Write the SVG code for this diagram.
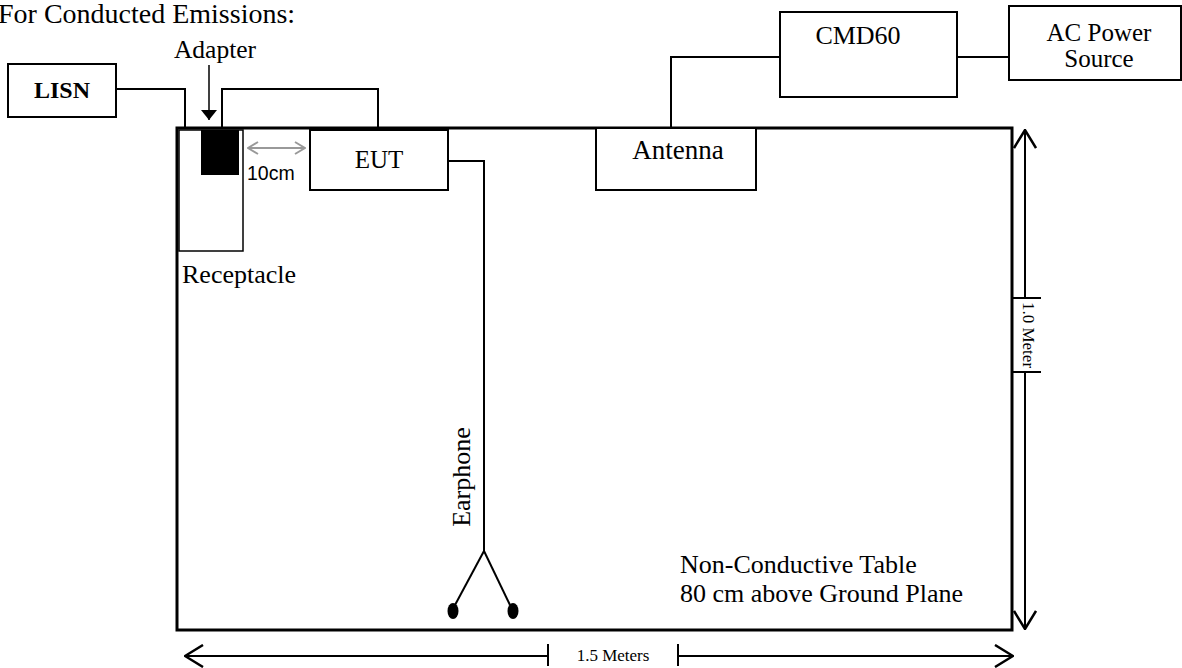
<svg xmlns="http://www.w3.org/2000/svg" width="1182" height="668" viewBox="0 0 1182 668">
<style>
text{font-family:"Liberation Serif","Times New Roman",serif;fill:#000}
.box{fill:#fff;stroke:#000;stroke-width:2}
.ln{fill:none;stroke:#000;stroke-width:2}
.dim{fill:none;stroke:#000;stroke-width:2}
.t{font-size:26px}
.c{text-anchor:middle}
</style>
<defs>
<marker id="chev" viewBox="0 0 20 24" refX="19" refY="12" markerWidth="20" markerHeight="24" markerUnits="userSpaceOnUse" orient="auto-start-reverse">
<path d="M1,1 L19,12 L1,23" fill="none" stroke="#000" stroke-width="2.5"/>
</marker>
<marker id="gchev" viewBox="0 0 12 14" refX="11" refY="7" markerWidth="12" markerHeight="14" markerUnits="userSpaceOnUse" orient="auto-start-reverse">
<path d="M1,1 L11,7 L1,13" fill="none" stroke="#999" stroke-width="2"/>
</marker>
<marker id="tri" viewBox="0 0 16 10" refX="8" refY="10" markerWidth="16" markerHeight="10" markerUnits="userSpaceOnUse" orient="0">
<path d="M0,0 L16,0 L8,10 Z" fill="#000"/>
</marker>
</defs>

<text x="-2" y="23" style="font-size:28px">For Conducted Emissions:</text>

<g id="table">
<rect x="177" y="128" width="835" height="502" fill="none" stroke="#000" stroke-width="3"/>
<text x="680" y="573" class="t">Non-Conductive Table</text>
<text x="680" y="602" class="t">80 cm above Ground Plane</text>
</g>

<g id="connectors">
<polyline class="ln" points="116,89 185,89 185,128"/>
<polyline class="ln" points="222,128 222,89 378,89 378,128"/>
<polyline class="ln" points="448,161 484,161 484,551"/>
<line class="ln" x1="484" y1="551" x2="455" y2="605"/>
<line class="ln" x1="484" y1="551" x2="510" y2="605"/>
<polyline class="ln" points="671,128 671,57 780,57"/>
<line class="ln" x1="957" y1="57" x2="1009" y2="57"/>
<line x1="209" y1="65" x2="209" y2="120" stroke="#000" stroke-width="1.5" marker-end="url(#tri)"/>
<line x1="248" y1="148" x2="305" y2="148" stroke="#999" stroke-width="2" marker-start="url(#gchev)" marker-end="url(#gchev)"/>
</g>

<g id="lisn">
<rect class="box" x="8" y="64" width="108" height="53"/>
<text x="62" y="98" class="c" style="font-size:24px;font-weight:bold">LISN</text>
</g>

<g id="receptacle">
<rect x="179" y="130" width="64" height="121" fill="#fff" stroke="#000" stroke-width="1.5"/>
<text x="182" y="283" class="t">Receptacle</text>
</g>

<g id="adapter">
<rect x="201" y="130" width="38" height="45" fill="#000"/>
<text x="215" y="58" class="c" style="font-size:25.5px">Adapter</text>
</g>

<text x="247" y="180" style="font-family:'Liberation Sans',Arial,sans-serif;font-size:19.5px">10cm</text>

<g id="eut">
<rect class="box" x="310" y="130" width="138" height="60"/>
<text x="379" y="168" class="c" style="font-size:25px">EUT</text>
</g>

<g id="earphone">
<ellipse cx="453" cy="611" rx="5.5" ry="8" fill="#000"/>
<ellipse cx="513" cy="611" rx="5.5" ry="8" fill="#000"/>
<text transform="translate(470,477) rotate(-90)" class="t c">Earphone</text>
</g>

<g id="antenna">
<rect class="box" x="596" y="128" width="160" height="62"/>
<text x="678" y="159" class="c" style="font-size:27px">Antenna</text>
</g>

<g id="cmd60">
<rect class="box" x="780" y="12" width="177" height="85"/>
<text x="858" y="44" class="c" style="font-size:26px">CMD60</text>
</g>

<g id="acpower">
<rect class="box" x="1009" y="6" width="172" height="74"/>
<text x="1099" y="41" class="c" style="font-size:25px">AC Power</text>
<text x="1099" y="67" class="c" style="font-size:25px">Source</text>
</g>

<g id="dimensions">
<line class="dim" x1="1025" y1="298" x2="1025" y2="130" marker-end="url(#chev)"/>
<line class="dim" x1="1025" y1="372" x2="1025" y2="629" marker-end="url(#chev)"/>
<line class="dim" x1="1013" y1="298" x2="1041" y2="298"/>
<line class="dim" x1="1013" y1="372" x2="1041" y2="372"/>
<text transform="translate(1023,335) rotate(90)" class="c" style="font-size:17px">1.0 Meter</text>
<line class="dim" x1="548" y1="656" x2="185" y2="656" marker-end="url(#chev)"/>
<line class="dim" x1="678" y1="656" x2="1013" y2="656" marker-end="url(#chev)"/>
<line class="dim" x1="548" y1="644" x2="548" y2="666"/>
<line class="dim" x1="678" y1="644" x2="678" y2="666"/>
<text x="613" y="661" class="c" style="font-size:17px">1.5 Meters</text>
</g>
</svg>
